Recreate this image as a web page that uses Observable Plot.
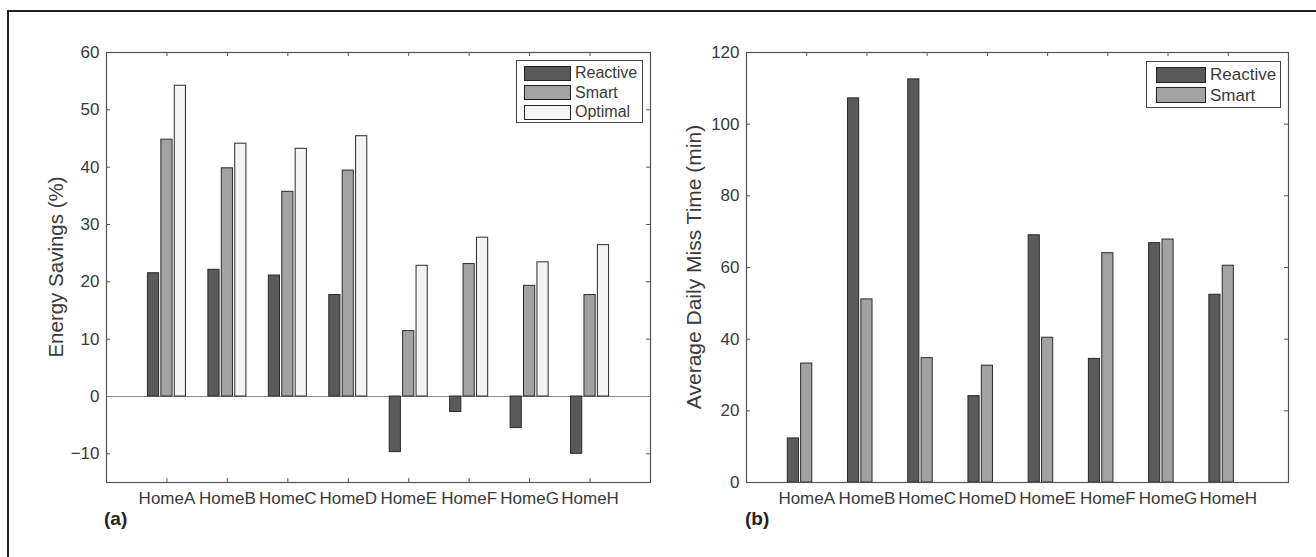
<!DOCTYPE html>
<html>
<head>
<meta charset="utf-8">
<script src="https://cdn.jsdelivr.net/npm/d3@7"></script>
<script src="https://cdn.jsdelivr.net/npm/@observablehq/plot@0.6"></script>
<style>
  body { margin: 0; background: #fff; }
  #wrap { position: relative; width: 1316px; height: 557px; overflow: hidden; font-family: "Liberation Sans", Arial, Helvetica, sans-serif; color: #3a3a3a; }
  #frame { position: absolute; left: 7px; top: 10px; width: 1400px; height: 700px; border-left: 2px solid #222; border-top: 2px solid #222; box-sizing: border-box; }
  .panel { position: absolute; top: 0; }
  .ylabel { position: absolute; white-space: nowrap; transform: translate(-50%, -50%) rotate(-90deg); font-size: 20.5px; line-height: 1; color: #3a3a3a; }
  .tag { position: absolute; font-weight: bold; font-size: 19px; line-height: 1; color: #222; }
  .legend { position: absolute; border: 1px solid #444; background: #fff; box-sizing: border-box; }
  .legend .row { position: absolute; left: 0; display: flex; align-items: center; white-space: nowrap; }
  .legend .sw { border: 1px solid #222; box-sizing: border-box; }
  .legend .lbl { color: #3a3a3a; line-height: 1; }
</style>
</head>
<body>
<div id="wrap">
  <div id="frame"></div>
</div>
<script>
// ---- data ----
const homes = ["HomeA", "HomeB", "HomeC", "HomeD", "HomeE", "HomeF", "HomeG", "HomeH"];
const savingsSeries = ["Reactive", "Smart", "Optimal"];
const savingsReactive = [21.5, 22.1, 21.1, 17.7, -9.7, -2.7, -5.5, -10.0];
const savingsSmart    = [44.8, 39.8, 35.7, 39.4, 11.4, 23.1, 19.3, 17.7];
const savingsOptimal  = [54.2, 44.1, 43.2, 45.4, 22.8, 27.7, 23.4, 26.4];
const missSeries = ["Reactive", "Smart"];
const missReactive = [12.3, 107.2, 112.5, 24.1, 69.0, 34.5, 66.8, 52.4];
const missSmart    = [33.2, 51.1, 34.7, 32.6, 40.4, 64.0, 67.8, 60.5];
const savingsTicks = [-10, 0, 10, 20, 30, 40, 50, 60];
const missTicks = [0, 20, 40, 60, 80, 100, 120];
const savingsLabel = "Energy Savings (%)";
const missLabel = "Average Daily Miss Time (min)";
const panelTags = ["(a)", "(b)"];

// ---- styling / layout ----
const seriesColors = {Reactive: "#5a5a5a", Smart: "#a2a2a2", Optimal: "#f4f4f4"};
const slot = 0.222;      // MATLAB grouped-bar slot (3-slot layout)
const barW = 0.185;
const idx = homes.map((h, i) => i + 1);

function tableOf(seriesNames, valueArrays) {
  const rows = [];
  homes.forEach((h, i) => {
    seriesNames.forEach((s, k) => {
      rows.push({i: i + 1, k, series: s, v: valueArrays[k][i]});
    });
  });
  return rows;
}

function panel({left, width, height, mL, mR, mT, mB, yDomain, yTicks, rows, seriesNames, zeroLine}) {
  const W = width - mL - mR;
  const H = height - mT - mB;
  const marks = [];
  // inward ticks (drawn first so bars cover them)
  marks.push(
    Plot.tickY(yTicks, {y: d => d, insetRight: W - 4, stroke: "#555"}),
    Plot.tickY(yTicks, {y: d => d, insetLeft: W - 4, stroke: "#555"}),
    Plot.tickX(idx, {x: d => d, insetBottom: H - 4, stroke: "#555"}),
    Plot.tickX(idx, {x: d => d, insetTop: H - 4, stroke: "#555"})
  );
  if (zeroLine) marks.push(Plot.ruleY([0], {stroke: "#8a8a8a", strokeWidth: 1}));
  marks.push(
    Plot.rectY(rows, {
      x1: d => d.i + (d.k - 1) * slot - barW / 2,
      x2: d => d.i + (d.k - 1) * slot + barW / 2,
      y: "v",
      fill: "series",
      stroke: "#2a2a2a",
      strokeWidth: 1
    }),
    Plot.axisY(yTicks, {anchor: "left", tickSize: 0, tickPadding: 7, label: null, fontSize: 17}),
    Plot.axisX(idx, {anchor: "bottom", tickSize: 0, tickPadding: 9, label: null, fontSize: 17, tickFormat: i => homes[i - 1]}),
    Plot.frame({stroke: "#555", strokeWidth: 1.2})
  );
  const svg = Plot.plot({
    width, height,
    marginLeft: mL, marginRight: mR, marginTop: mT, marginBottom: mB,
    x: {type: "linear", domain: [0, 9]},
    y: {domain: yDomain},
    color: {domain: seriesNames, range: seriesNames.map(s => seriesColors[s])},
    style: {fontFamily: "'Liberation Sans', Arial, Helvetica, sans-serif", color: "#3a3a3a", background: "transparent", overflow: "visible"},
    marks
  });
  svg.classList.add("panel");
  svg.style.left = left + "px";
  return svg;
}

function legend(seriesNames, {left, top, width, height, swX, swW, swH, pitch, firstY, font}) {
  const box = document.createElement("div");
  box.className = "legend";
  Object.assign(box.style, {left: left + "px", top: top + "px", width: width + "px", height: height + "px"});
  seriesNames.forEach((s, k) => {
    const row = document.createElement("div");
    row.className = "row";
    row.style.top = (firstY + k * pitch) + "px";
    row.style.left = swX + "px";
    const sw = document.createElement("div");
    sw.className = "sw";
    Object.assign(sw.style, {width: swW + "px", height: swH + "px", background: seriesColors[s]});
    const lb = document.createElement("div");
    lb.className = "lbl";
    lb.textContent = s;
    Object.assign(lb.style, {fontSize: font + "px", marginLeft: "4px"});
    row.appendChild(sw); row.appendChild(lb);
    box.appendChild(row);
  });
  return box;
}

function addText(cls, text, css) {
  const d = document.createElement("div");
  d.className = cls;
  d.textContent = text;
  Object.assign(d.style, css);
  document.getElementById("wrap").appendChild(d);
}

const wrap = document.getElementById("wrap");

wrap.appendChild(panel({
  left: 0, width: 658, height: 557, mL: 106, mR: 8, mT: 52, mB: 75,
  yDomain: [-15, 60], yTicks: savingsTicks,
  rows: tableOf(savingsSeries, [savingsReactive, savingsSmart, savingsOptimal]),
  seriesNames: savingsSeries, zeroLine: true
}));

wrap.appendChild(panel({
  left: 658, width: 658, height: 557, mL: 88, mR: 28, mT: 52, mB: 75,
  yDomain: [0, 120], yTicks: missTicks,
  rows: tableOf(missSeries, [missReactive, missSmart]),
  seriesNames: missSeries, zeroLine: false
}));

wrap.appendChild(legend(savingsSeries, {left: 516, top: 60, width: 127, height: 63, swX: 7, swW: 47, swH: 15, pitch: 19.5, firstY: 4, font: 16}));
wrap.appendChild(legend(missSeries, {left: 1146, top: 61, width: 135, height: 47, swX: 9, swW: 50, swH: 16, pitch: 20.5, firstY: 4, font: 17}));

addText("ylabel", savingsLabel, {left: "56px", top: "267px"});
addText("ylabel", missLabel, {left: "693px", top: "267px", fontSize: "21px"});
addText("tag", panelTags[0], {left: "104px", top: "509px"});
addText("tag", panelTags[1], {left: "745px", top: "509px"});
</script>
</body>
</html>
